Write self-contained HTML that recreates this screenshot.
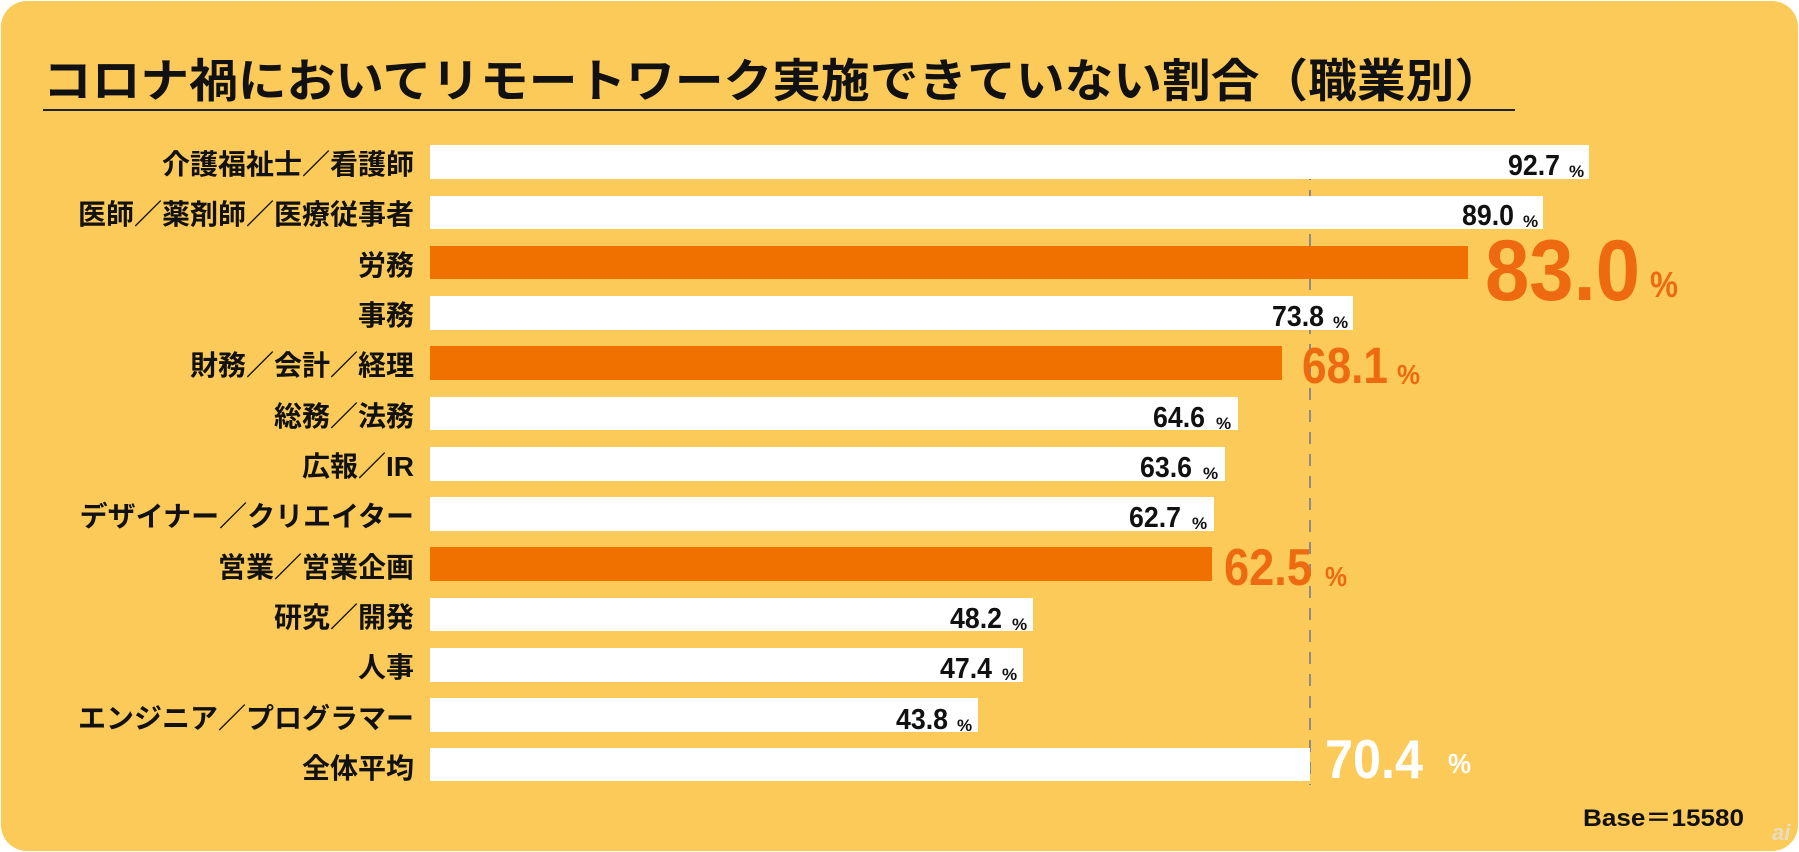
<!DOCTYPE html>
<html><head><meta charset="utf-8"><style>
html,body{margin:0;padding:0;background:#fff;}
svg{display:block;}
text{font-family:"Liberation Sans","Noto Sans CJK JP",sans-serif;font-weight:bold;}
</style></head><body>
<svg width="1799" height="852" viewBox="0 0 1799 852" xmlns="http://www.w3.org/2000/svg">
<rect x="1" y="1" width="1797" height="850" rx="26" ry="26" fill="#fbca58"/>
<text x="43" y="97" font-size="46" fill="#111" textLength="1460" lengthAdjust="spacingAndGlyphs">コロナ禍においてリモートワーク実施できていない割合（職業別）</text>
<rect x="43" y="109" width="1472" height="2" fill="#222"/>
<line x1="1310" y1="168" x2="1310" y2="785" stroke="#8a8a90" stroke-width="2" stroke-dasharray="12,10"/>
<g font-size="28" fill="#111" text-anchor="end">
<text x="414" y="174">介護福祉士／看護師</text>
<text x="414" y="224">医師／薬剤師／医療従事者</text>
<text x="414" y="275">労務</text>
<text x="414" y="325">事務</text>
<text x="414" y="375">財務／会計／経理</text>
<text x="414" y="426">総務／法務</text>
<text x="414" y="476">広報／IR</text>
<text x="414" y="526">デザイナー／クリエイター</text>
<text x="414" y="577">営業／営業企画</text>
<text x="414" y="627">研究／開発</text>
<text x="414" y="677">人事</text>
<text x="414" y="728">エンジニア／プログラマー</text>
<text x="414" y="778">全体平均</text>
</g>
<g>
<rect x="430" y="145" width="1159" height="34" fill="#fff"/>
<rect x="430" y="196" width="1113" height="33" fill="#fff"/>
<rect x="430" y="246" width="1038" height="33" fill="#f07000"/>
<rect x="430" y="296" width="923" height="34" fill="#fff"/>
<rect x="430" y="346" width="852" height="34" fill="#f07000"/>
<rect x="430" y="397" width="808" height="33" fill="#fff"/>
<rect x="430" y="447" width="795" height="34" fill="#fff"/>
<rect x="430" y="497" width="784" height="34" fill="#fff"/>
<rect x="430" y="547" width="782" height="34" fill="#f07000"/>
<rect x="430" y="598" width="603" height="33" fill="#fff"/>
<rect x="430" y="648" width="593" height="34" fill="#fff"/>
<rect x="430" y="698" width="548" height="34" fill="#fff"/>
<rect x="430" y="748" width="880" height="33" fill="#fff"/>
</g>
<g fill="#111">
<text x="1508" y="175" font-size="29" textLength="52" lengthAdjust="spacingAndGlyphs">92.7</text><text x="1569" y="177" font-size="17">%</text>
<text x="1462" y="225" font-size="29" textLength="52" lengthAdjust="spacingAndGlyphs">89.0</text><text x="1523" y="227" font-size="17">%</text>
<text x="1272" y="326" font-size="29" textLength="52" lengthAdjust="spacingAndGlyphs">73.8</text><text x="1333" y="328" font-size="17">%</text>
<text x="1153" y="427" font-size="29" textLength="52" lengthAdjust="spacingAndGlyphs">64.6</text><text x="1216" y="429" font-size="17">%</text>
<text x="1140" y="477" font-size="29" textLength="52" lengthAdjust="spacingAndGlyphs">63.6</text><text x="1203" y="479" font-size="17">%</text>
<text x="1129" y="527" font-size="29" textLength="52" lengthAdjust="spacingAndGlyphs">62.7</text><text x="1192" y="529" font-size="17">%</text>
<text x="950" y="628" font-size="29" textLength="52" lengthAdjust="spacingAndGlyphs">48.2</text><text x="1012" y="630" font-size="17">%</text>
<text x="940" y="678" font-size="29" textLength="52" lengthAdjust="spacingAndGlyphs">47.4</text><text x="1002" y="680" font-size="17">%</text>
<text x="896" y="729" font-size="29" textLength="52" lengthAdjust="spacingAndGlyphs">43.8</text><text x="957" y="731" font-size="17">%</text>
</g>
<g fill="#ee6a10">
<text x="1485" y="300" font-size="86" textLength="155" lengthAdjust="spacingAndGlyphs">83.0</text>
<text x="1650" y="297" font-size="36" textLength="28" lengthAdjust="spacingAndGlyphs">%</text>
<text x="1302" y="383" font-size="51" textLength="86" lengthAdjust="spacingAndGlyphs">68.1</text>
<text x="1397" y="384" font-size="28" textLength="23" lengthAdjust="spacingAndGlyphs">%</text>
<text x="1224" y="585" font-size="52" textLength="88" lengthAdjust="spacingAndGlyphs">62.5</text>
<text x="1325" y="586" font-size="28" textLength="22" lengthAdjust="spacingAndGlyphs">%</text>
</g>
<g fill="#fff">
<text x="1325" y="778" font-size="55" textLength="98" lengthAdjust="spacingAndGlyphs">70.4</text>
<text x="1448" y="773" font-size="28" textLength="23" lengthAdjust="spacingAndGlyphs">%</text>
</g>
<text x="1583" y="826" font-size="24" fill="#111" textLength="161" lengthAdjust="spacingAndGlyphs">Base＝15580</text>
<text x="1772" y="840" font-size="22" fill="#e8dcc0" font-style="italic">ai</text>
</svg>
</body></html>
